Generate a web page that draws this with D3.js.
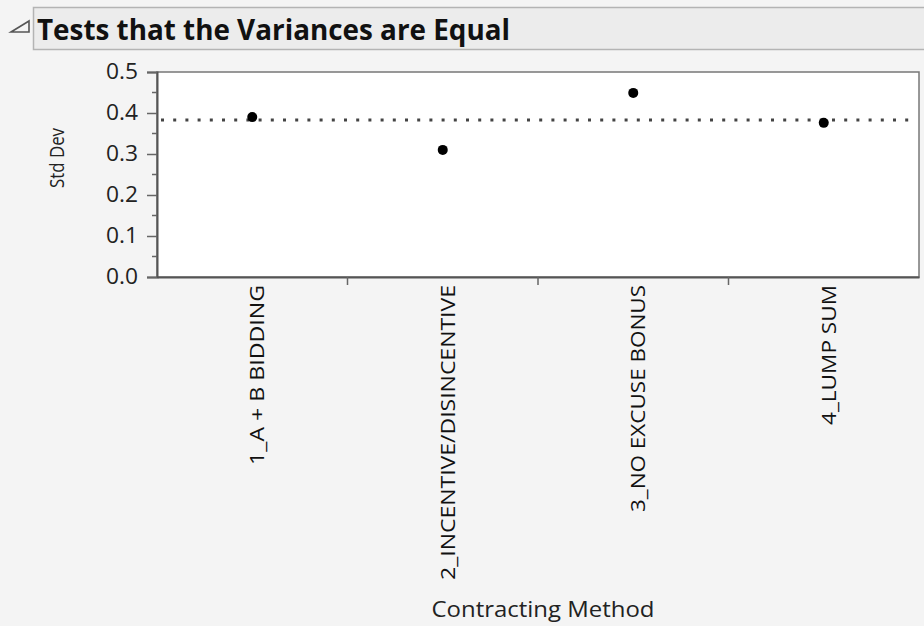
<!DOCTYPE html>
<html>
<head>
<meta charset="utf-8">
<script src="https://cdn.jsdelivr.net/npm/d3@7"></script>
<style>
  html, body { margin: 0; padding: 0; background: #f4f4f4; }
  svg { display: block; }
  text { font-family: "Open Sans", "Noto Sans", sans-serif; fill: #222; }
</style>
</head>
<body>
<svg id="chart" width="924" height="626"></svg>
<script>
// ---- data ----
const titleText = "Tests that the Variances are Equal";
const categories = ["1_A + B BIDDING", "2_INCENTIVE/DISINCENTIVE", "3_NO EXCUSE BONUS", "4_LUMP SUM"];
const stdDevs = [0.390, 0.310, 0.449, 0.376];
const pooledStdDev = 0.383;
const yTicks = [0.0, 0.1, 0.2, 0.3, 0.4, 0.5];
const yLabel = "Std Dev";
const xLabel = "Contracting  Method";

// ---- layout ----
const svg = d3.select("#chart");
const W = 924, H = 626;
const plot = { left: 157, right: 919, top: 72, bottom: 277 };

svg.append("rect").attr("width", W).attr("height", H).attr("fill", "#f4f4f4");

// header bar
svg.append("rect")
  .attr("x", 33.5).attr("y", 7.5).attr("width", W).attr("height", 42)
  .attr("fill", "#ececec").attr("stroke", "#b4b4b4").attr("stroke-width", 1.5);
svg.append("path")
  .attr("d", "M11,32 L29,21 L29,32 Z")
  .attr("fill", "none").attr("stroke", "#555").attr("stroke-width", 1.6);
svg.append("text")
  .attr("x", 37).attr("y", 40)
  .attr("font-size", 28).attr("font-weight", "bold")
  .attr("textLength", 473).attr("lengthAdjust", "spacingAndGlyphs")
  .style("fill", "#111")
  .text(titleText);

// scales
const x = d3.scaleBand().domain(categories).range([plot.left, plot.right]);
const y = d3.scaleLinear().domain([0, 0.5]).range([plot.bottom, plot.top]);

// plot background
svg.append("rect")
  .attr("x", plot.left).attr("y", plot.top)
  .attr("width", plot.right - plot.left).attr("height", plot.bottom - plot.top)
  .attr("fill", "#ffffff").attr("stroke", "#777").attr("stroke-width", 1.5);

// y axis
const yAxis = d3.axisLeft(y).tickValues(yTicks).tickFormat(d3.format(".1f")).tickSize(10).tickPadding(9);
const gy = svg.append("g").attr("transform", `translate(${plot.left},0)`).call(yAxis);
gy.select(".domain").attr("stroke", "#555").attr("stroke-width", 2);
gy.selectAll(".tick line").attr("stroke", "#666").attr("stroke-width", 1.5);
gy.selectAll(".tick text")
  .attr("font-size", 21).attr("font-family", "'Open Sans', sans-serif")
  .attr("textLength", 32).attr("lengthAdjust", "spacingAndGlyphs")
  .style("fill", "#222");
// minor ticks
const minor = d3.range(0.05, 0.5, 0.1);
svg.append("g").selectAll("line").data(minor).join("line")
  .attr("x1", plot.left - 5).attr("x2", plot.left)
  .attr("y1", d => y(d)).attr("y2", d => y(d))
  .attr("stroke", "#666").attr("stroke-width", 1.5);

// x axis
const xAxis = d3.axisBottom(x).tickSize(0).tickFormat("");
const gx = svg.append("g").attr("transform", `translate(0,${plot.bottom})`).call(xAxis);
gx.select(".domain").attr("stroke", "#555").attr("stroke-width", 2);
// separators between categories
const seps = categories.slice(1).map(c => x(c));
svg.append("g").selectAll("line").data(seps).join("line")
  .attr("x1", d => d).attr("x2", d => d)
  .attr("y1", plot.bottom).attr("y2", plot.bottom + 8)
  .attr("stroke", "#666").attr("stroke-width", 1.5);

// rotated category labels
const labelLens = [180, 295, 227, 140];
svg.append("g").selectAll("text").data(categories).join("text")
  .attr("transform", d => `translate(${x(d) + x.bandwidth() / 2 + 5},${plot.bottom + 8}) rotate(-90)`)
  .attr("text-anchor", "end")
  .attr("dy", "0.35em")
  .attr("font-size", 20)
  .attr("textLength", (d, i) => labelLens[i]).attr("lengthAdjust", "spacingAndGlyphs")
  .style("fill", "#111")
  .text(d => d);

// pooled line
svg.append("line")
  .attr("x1", plot.left + 4).attr("x2", plot.right - 2)
  .attr("y1", y(pooledStdDev)).attr("y2", y(pooledStdDev))
  .attr("stroke", "#444").attr("stroke-width", 3)
  .attr("stroke-dasharray", "3,9.2");

// points
svg.append("g").selectAll("circle").data(stdDevs).join("circle")
  .attr("cx", (d, i) => x(categories[i]) + x.bandwidth() / 2)
  .attr("cy", d => y(d))
  .attr("r", 5)
  .attr("fill", "#000");

// axis titles
svg.append("text")
  .attr("transform", "translate(64,158) rotate(-90)")
  .attr("text-anchor", "middle")
  .attr("font-size", 20)
  .attr("textLength", 60).attr("lengthAdjust", "spacingAndGlyphs")
  .style("fill", "#222")
  .text(yLabel);

svg.append("text")
  .attr("x", 543).attr("y", 617)
  .attr("text-anchor", "middle")
  .attr("font-size", 21)
  .attr("textLength", 223).attr("lengthAdjust", "spacingAndGlyphs")
  .style("fill", "#222")
  .text(xLabel);
</script>
</body>
</html>
